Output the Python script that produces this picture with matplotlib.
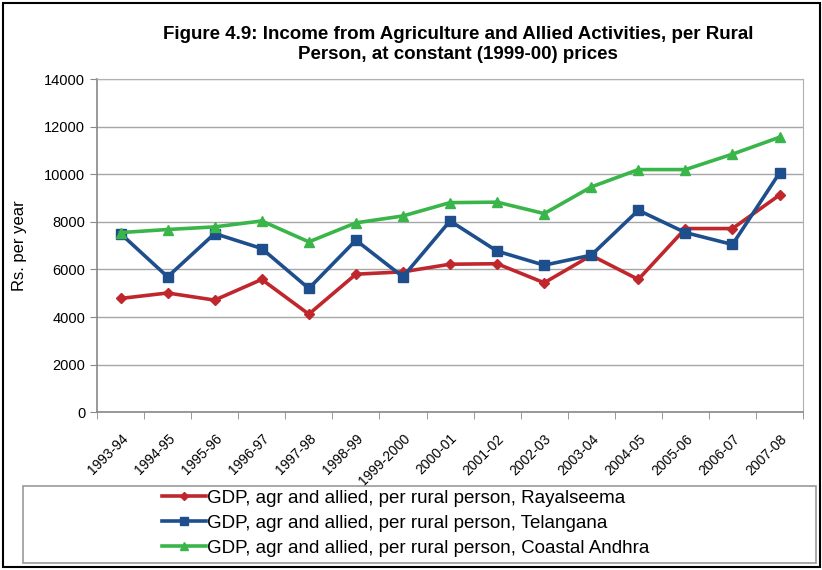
import matplotlib
import matplotlib.pyplot as plt
from matplotlib.patches import Rectangle

matplotlib.use("agg")
plt.rcParams["font.family"] = ["Liberation Sans", "DejaVu Sans"]

years = ["1993-94", "1994-95", "1995-96", "1996-97", "1997-98", "1998-99",
         "1999-2000", "2000-01", "2001-02", "2002-03", "2003-04", "2004-05",
         "2005-06", "2006-07", "2007-08"]
rayalseema = [4780, 5010, 4710, 5580, 4120, 5800, 5900, 6220,
              6240, 5440, 6590, 5580, 7720, 7720, 9130]
telangana = [7510, 5690, 7510, 6880, 5200, 7230, 5690, 8040,
             6770, 6180, 6600, 8490, 7550, 7050, 10060]
coastal = [7550, 7680, 7790, 8040, 7160, 7960, 8250, 8810,
           8830, 8350, 9470, 10200, 10200, 10850, 11560]

labels = ["GDP, agr and allied, per rural person, Rayalseema",
          "GDP, agr and allied, per rural person, Telangana",
          "GDP, agr and allied, per rural person, Coastal Andhra"]

fig = plt.figure(figsize=(8.22, 5.70), dpi=100)
ax = fig.add_axes([0.118, 0.277, 0.859, 0.584])

x = list(range(len(years)))
ax.plot(x, rayalseema, color="#C0272D", lw=2.6, marker="D", ms=5.5, label=labels[0])
ax.plot(x, telangana, color="#1F4E8C", lw=2.6, marker="s", ms=7, label=labels[1])
ax.plot(x, coastal, color="#3AB54A", lw=2.6, marker="^", ms=7.5, label=labels[2])

ax.set_ylim(0, 14000)
ax.set_yticks(range(0, 14001, 2000))
ax.set_xlim(-0.5, len(years) - 0.5)
ax.set_xticks(x)
ax.set_xticklabels(years, rotation=45, ha="right", rotation_mode="anchor", fontsize=10)
ax.set_xticks([i - 0.5 for i in range(len(years) + 1)], minor=True)
ax.tick_params(axis="x", which="major", length=0, pad=14)
ax.tick_params(axis="x", which="minor", length=5, color="#888888")
ax.tick_params(axis="y", length=5, color="#888888", labelsize=10.5)

ax.grid(axis="y", color="#A6A6A6", lw=1)
ax.set_axisbelow(True)
for s in ["top", "right"]:
    ax.spines[s].set_color("#B0B0B0")
for s in ["left", "bottom"]:
    ax.spines[s].set_color("#888888")
    ax.spines[s].set_linewidth(1.2)

ax.set_ylabel("Rs. per year", fontsize=12, labelpad=12)

fig.text(0.557, 0.922,
         "Figure 4.9: Income from Agriculture and Allied Activities, per Rural\n"
         "Person, at constant (1999-00) prices",
         ha="center", va="center", fontsize=13.5, fontweight="bold", linespacing=1.25)

# legend box drawn separately (wide), entries centred inside
fig.patches.append(Rectangle((23 / 822, 1 - 563 / 570), 793 / 822, 77 / 570,
                             transform=fig.transFigure, fill=False,
                             edgecolor="#999999", lw=1.2))
leg = fig.legend(loc="center", bbox_to_anchor=(0.494, 0.082), ncol=1, fontsize=13.5,
                 frameon=False, handlelength=2.3, handletextpad=0.1,
                 labelspacing=0.42, markerscale=0.75)

fig.patches.append(Rectangle((0.004, 0.005), 0.993, 0.99, transform=fig.transFigure,
                             fill=False, edgecolor="black", lw=1.5))

plt.savefig("out.png", dpi=100)
